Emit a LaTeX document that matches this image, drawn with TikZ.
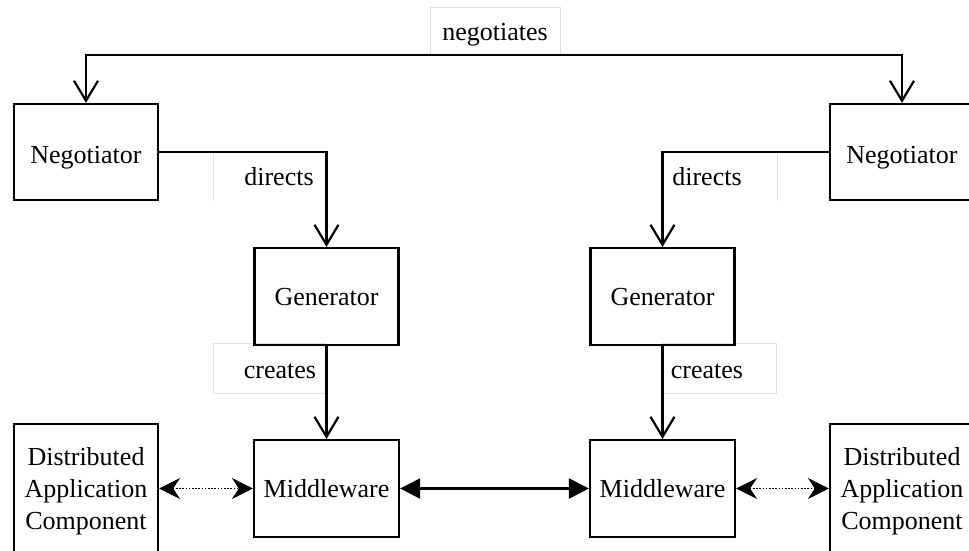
\documentclass[tikz,border=0pt]{standalone}
\usepackage{fontspec}
\setmainfont{Liberation Serif}
\usetikzlibrary{arrows.meta}
\begin{document}
\begin{tikzpicture}[x=1pt,y=-1pt,
  txt/.style={font=\fontsize{26}{32}\selectfont},
  block/.style={txt, draw=black, line width=2.2pt, minimum width=144pt,
    minimum height=96pt, inner sep=0pt, text height=22pt, text depth=4pt},
  tallblock/.style={txt, draw=black, line width=2.2pt, minimum width=144pt,
    minimum height=134pt, inner sep=0pt, align=center},
  lbl/.style={txt, anchor=base, inner sep=0pt},
  lblbox/.style={inner sep=0pt, outer sep=0pt, draw=none},
  frame/.style={draw=black!12, line width=1pt},
  flow/.style={draw=black, line width=2.2pt,
    -{Straight Barb[length=20pt,width=24pt]}},
  link/.style={draw=black, line width=2.2pt,
    {Triangle[length=20pt,width=20pt]}-{Triangle[length=20pt,width=20pt]}},
  calls/.style={draw=black, line width=1.6pt, dash pattern=on 1.6pt off 1.6pt,
    {Stealth[length=21pt,width=21pt,inset=7pt,line width=1pt]}-{Stealth[length=21pt,width=21pt,inset=7pt,line width=1pt]}}
]
\useasboundingbox (0,0) rectangle (969,550);
\clip (0,0) rectangle (969,550);

% label frames (light, partly covered by the connectors)
\node[lblbox, minimum width=130pt, minimum height=48pt] (negbox) at (495,31) {};
\node[lblbox, minimum width=113pt, minimum height=48pt] (dirLbox) at (269.5,177) {};
\node[lblbox, minimum width=115pt, minimum height=48pt] (dirRbox) at (719.5,177) {};
\node[lblbox, minimum width=113pt, minimum height=50pt] (creLbox) at (269.5,368) {};
\node[lblbox, minimum width=114pt, minimum height=50pt] (creRbox) at (719,368) {};
\draw[frame] (negbox.south west) -- (negbox.north west) -- (negbox.north east) -- (negbox.south east);
\draw[frame] (dirLbox.north west) -- (dirLbox.south west);
\draw[frame] (dirRbox.north east) -- (dirRbox.south east);
\draw[frame] (creLbox.north east) -- (creLbox.north west) -- (creLbox.south west) -- (creLbox.south east);
\draw[frame] (creRbox.north west) -- (creRbox.north east) -- (creRbox.south east) -- (creRbox.south west);

% label texts
\node[lbl] (negtxt) at (495,40) {negotiates};
\node[lbl] (dirLtxt) at (279,185) {directs};
\node[lbl] (dirRtxt) at (707,185) {directs};
\node[lbl] (creLtxt) at (280,378) {creates};
\node[lbl] (creRtxt) at (707,378) {creates};

% blocks
\node[block, text height=24pt, text depth=2pt] (negL) at (86,152) {Negotiator};
\node[block, text height=24pt, text depth=2pt] (negR) at (902,152) {Negotiator};
\node[block, minimum height=97pt] (genL) at (326.5,296.5) {Generator};
\node[block, minimum height=97pt] (genR) at (662.5,296.5) {Generator};
\node[block, minimum width=145pt, minimum height=97pt] (midL) at (326.5,488.5) {Middleware};
\node[block, minimum width=145pt, minimum height=97pt] (midR) at (662.5,488.5) {Middleware};
\node[tallblock] (dacL) at (86,491) {Distributed\\Application\\Component};
\node[tallblock] (dacR) at (902,491) {Distributed\\Application\\Component};

% connectors
\draw[flow, {Straight Barb[length=20pt,width=24pt]}-{Straight Barb[length=20pt,width=24pt]}]
  (negL.north) |- (negbox.south) -| (negR.north);
\draw[flow] (negL.east) -| (genL.north);
\draw[flow] (negR.west) -| (genR.north);
\draw[flow] (genL.south) -- (midL.north);
\draw[flow] (genR.south) -- (midR.north);
\draw[link] (midL.east) -- (midR.west);
\draw[calls] (midL.west -| dacL.east) -- (midL.west);
\draw[calls] (midR.east) -- (midR.east -| dacR.west);
\end{tikzpicture}
\end{document}
